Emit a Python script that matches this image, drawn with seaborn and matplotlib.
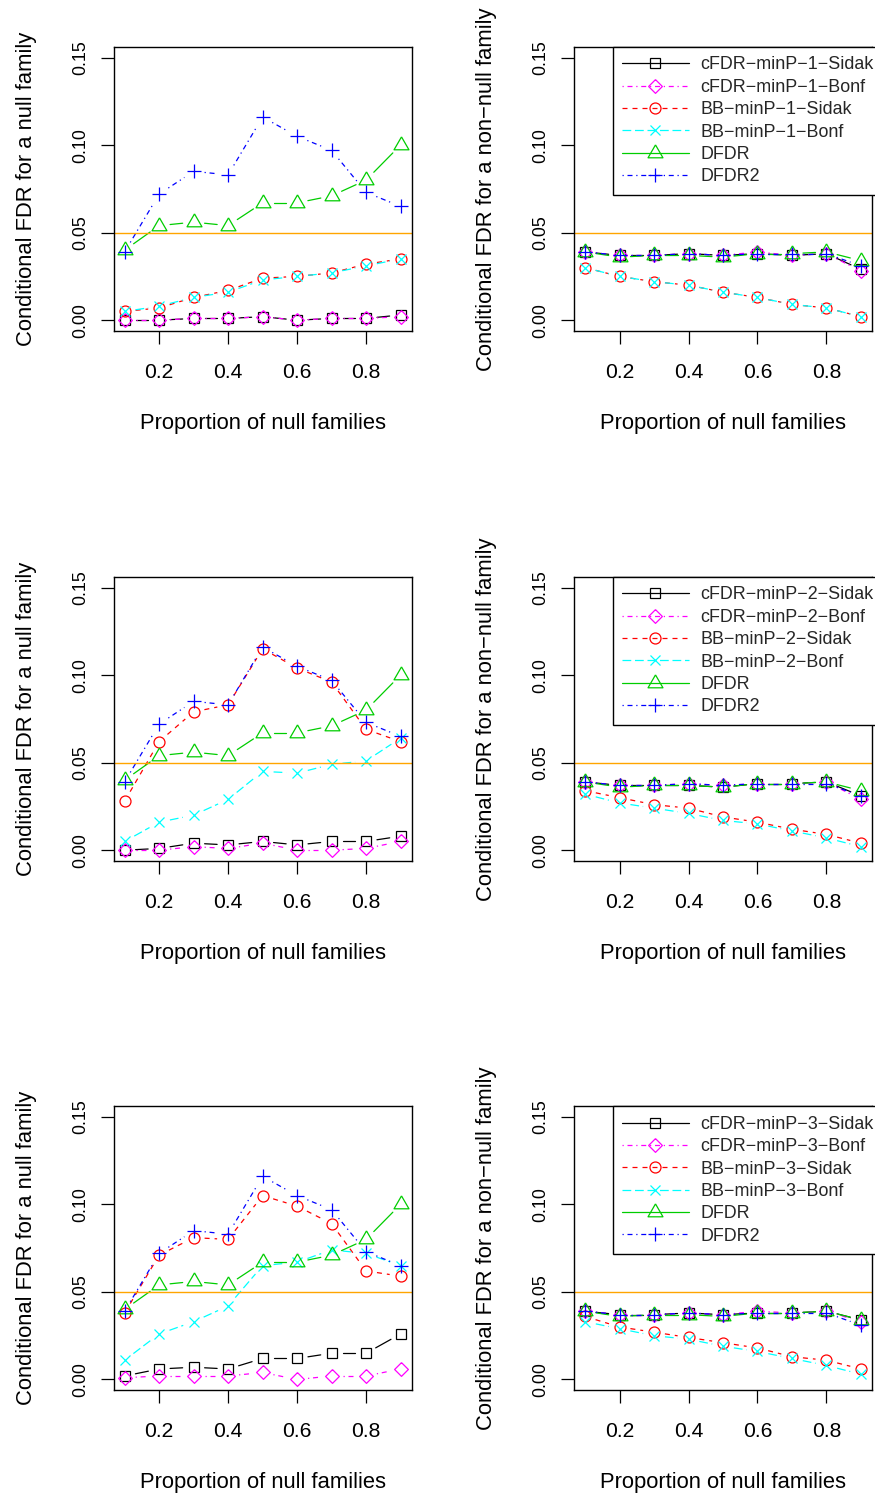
import numpy as np
import pandas as pd
import matplotlib
matplotlib.use("Agg")
import matplotlib.pyplot as plt
from matplotlib.lines import Line2D
import seaborn as sns

sns.set_style("white")
plt.rcParams["font.family"] = ["Liberation Sans", "DejaVu Sans"]
plt.rcParams["axes.unicode_minus"] = True

# ---------------------------------------------------------------- data
prop_null = [0.1, 0.2, 0.3, 0.4, 0.5, 0.6, 0.7, 0.8, 0.9]

# conditional FDR for a null family
dfdr_null = [0.040, 0.054, 0.056, 0.054, 0.067, 0.067, 0.071, 0.080, 0.100]
dfdr2_null = [0.039, 0.072, 0.085, 0.083, 0.116, 0.105, 0.097, 0.073, 0.065]

cfdr_sidak_null_1 = [0.000, 0.000, 0.001, 0.001, 0.002, 0.000, 0.001, 0.001, 0.003]
cfdr_bonf_null_1 = [0.000, 0.000, 0.001, 0.001, 0.002, 0.000, 0.001, 0.001, 0.002]
bb_sidak_null_1 = [0.005, 0.007, 0.013, 0.017, 0.024, 0.025, 0.027, 0.032, 0.035]
bb_bonf_null_1 = [0.005, 0.008, 0.013, 0.016, 0.023, 0.025, 0.027, 0.031, 0.035]

cfdr_sidak_null_2 = [0.000, 0.001, 0.004, 0.003, 0.005, 0.003, 0.005, 0.005, 0.008]
cfdr_bonf_null_2 = [0.000, 0.000, 0.002, 0.001, 0.004, 0.000, 0.000, 0.001, 0.005]
bb_sidak_null_2 = [0.028, 0.062, 0.079, 0.083, 0.115, 0.104, 0.096, 0.069, 0.062]
bb_bonf_null_2 = [0.005, 0.016, 0.020, 0.029, 0.045, 0.044, 0.049, 0.051, 0.064]

cfdr_sidak_null_3 = [0.002, 0.006, 0.007, 0.006, 0.012, 0.012, 0.015, 0.015, 0.026]
cfdr_bonf_null_3 = [0.001, 0.002, 0.002, 0.002, 0.004, 0.000, 0.002, 0.002, 0.006]
bb_sidak_null_3 = [0.038, 0.071, 0.081, 0.080, 0.105, 0.099, 0.089, 0.062, 0.059]
bb_bonf_null_3 = [0.011, 0.026, 0.033, 0.042, 0.065, 0.067, 0.074, 0.072, 0.065]

# conditional FDR for a non-null family
dfdr_nonnull = [0.039, 0.036, 0.037, 0.037, 0.036, 0.038, 0.038, 0.039, 0.034]
dfdr2_nonnull = [0.039, 0.037, 0.037, 0.038, 0.037, 0.038, 0.038, 0.038, 0.031]

cfdr_sidak_nonnull_1 = [0.039, 0.037, 0.037, 0.038, 0.037, 0.038, 0.037, 0.038, 0.029]
cfdr_bonf_nonnull_1 = [0.039, 0.037, 0.037, 0.038, 0.037, 0.039, 0.037, 0.038, 0.028]
bb_sidak_nonnull_1 = [0.030, 0.025, 0.022, 0.020, 0.016, 0.013, 0.009, 0.007, 0.002]
bb_bonf_nonnull_1 = [0.030, 0.025, 0.022, 0.020, 0.016, 0.013, 0.009, 0.007, 0.002]

cfdr_sidak_nonnull_2 = [0.039, 0.037, 0.037, 0.037, 0.036, 0.038, 0.038, 0.039, 0.031]
cfdr_bonf_nonnull_2 = [0.039, 0.037, 0.037, 0.038, 0.037, 0.038, 0.038, 0.039, 0.029]
bb_sidak_nonnull_2 = [0.034, 0.030, 0.026, 0.024, 0.019, 0.016, 0.012, 0.009, 0.004]
bb_bonf_nonnull_2 = [0.032, 0.027, 0.024, 0.021, 0.017, 0.015, 0.011, 0.007, 0.002]

cfdr_sidak_nonnull_3 = [0.039, 0.037, 0.037, 0.038, 0.037, 0.038, 0.038, 0.039, 0.034]
cfdr_bonf_nonnull_3 = [0.039, 0.037, 0.037, 0.038, 0.037, 0.039, 0.038, 0.039, 0.033]
bb_sidak_nonnull_3 = [0.036, 0.030, 0.027, 0.024, 0.021, 0.018, 0.013, 0.011, 0.006]
bb_bonf_nonnull_3 = [0.033, 0.029, 0.025, 0.023, 0.019, 0.016, 0.012, 0.008, 0.003]

target_fdr = 0.05
x_ticks = [0.2, 0.4, 0.6, 0.8]
y_ticks = [0.00, 0.05, 0.10, 0.15]

# ---------------------------------------------------------------- styles
TRIANGLE = [(0, 1.555), (-1.347, -0.7776), (1.347, -0.7776), (0, 1.555)]
DIAMOND = [(0, 1), (1, 0), (0, -1), (-1, 0), (0, 1)]

# (label template, colour, dash pattern, marker, marker size)
methods = [
    ("cFDR\u2212minP\u2212{k}\u2212Sidak", "black", None, "s", 7.0),
    ("cFDR\u2212minP\u2212{k}\u2212Bonf", "#FF00FF", (1, 3, 4, 3), DIAMOND, 9.9),
    ("BB\u2212minP\u2212{k}\u2212Sidak", "#FF0000", (4, 4), "o", 7.9),
    ("BB\u2212minP\u2212{k}\u2212Bonf", "#00FFFF", (7, 3), "x", 7.9),
    ("DFDR", "#00CD00", None, TRIANGLE, 12.4),
    ("DFDR2", "#0000FF", (1, 3, 4, 3), "+", 10.5),
]
LW = 0.9
MEW = 0.9
GAP_PX = 11          # space left between a line and its own points

W, H = 875, 1497
fig = plt.figure(figsize=(W / 100, H / 100), dpi=100)

ax_w = 298 / W
ax_h = 283.7 / H
col_left = [113.6 / W, 574 / W]
row_bottom = [1 - 330.7 / H, 1 - 860.7 / H, 1 - 1390 / H]

null_rows = [
    [cfdr_sidak_null_1, cfdr_bonf_null_1, bb_sidak_null_1, bb_bonf_null_1, dfdr_null, dfdr2_null],
    [cfdr_sidak_null_2, cfdr_bonf_null_2, bb_sidak_null_2, bb_bonf_null_2, dfdr_null, dfdr2_null],
    [cfdr_sidak_null_3, cfdr_bonf_null_3, bb_sidak_null_3, bb_bonf_null_3, dfdr_null, dfdr2_null],
]
nonnull_rows = [
    [cfdr_sidak_nonnull_1, cfdr_bonf_nonnull_1, bb_sidak_nonnull_1, bb_bonf_nonnull_1, dfdr_nonnull, dfdr2_nonnull],
    [cfdr_sidak_nonnull_2, cfdr_bonf_nonnull_2, bb_sidak_nonnull_2, bb_bonf_nonnull_2, dfdr_nonnull, dfdr2_nonnull],
    [cfdr_sidak_nonnull_3, cfdr_bonf_nonnull_3, bb_sidak_nonnull_3, bb_bonf_nonnull_3, dfdr_nonnull, dfdr2_nonnull],
]


def line_style(dash):
    return "-" if dash is None else (0, dash)


def gapped_segments(ax, x, y, gap=GAP_PX):
    """Split a series into separate segments that stop short of each point."""
    pts = ax.transData.transform(np.column_stack([x, y]))
    inv = ax.transData.inverted()
    rows = []
    for i in range(len(pts) - 1):
        p, q = pts[i], pts[i + 1]
        d = q - p
        length = np.hypot(*d)
        if length <= 2 * gap:
            continue
        u = d / length
        a = inv.transform(p + u * gap)
        b = inv.transform(q - u * gap)
        rows.append({"seg": i, "x": a[0], "y": a[1]})
        rows.append({"seg": i, "x": b[0], "y": b[1]})
    return pd.DataFrame(rows)


def draw_panel(ax, series, k, ylabel, with_legend):
    ax.set_xlim(0.068, 0.932)
    ax.set_ylim(-0.006, 0.156)
    for (label, color, dash, marker, ms), yvals in zip(methods, series):
        segs = gapped_segments(ax, prop_null, yvals)
        sns.lineplot(data=segs, x="x", y="y", units="seg", estimator=None,
                     sort=False, color=color, lw=LW, linestyle=line_style(dash),
                     ax=ax, legend=False)
        sns.lineplot(x=prop_null, y=yvals, color=color, linestyle="none",
                     marker=marker, markersize=ms, markerfacecolor="none",
                     markeredgecolor=color, markeredgewidth=MEW, ax=ax,
                     legend=False)
    ax.axhline(target_fdr, color="#FFA500", lw=1.0)
    ax.set_xlim(0.068, 0.932)
    ax.set_ylim(-0.006, 0.156)

    ax.set_xticks(x_ticks)
    ax.set_xticklabels([f"{t:.1f}" for t in x_ticks])
    ax.set_yticks(y_ticks)
    ax.set_yticklabels([f"{t:.2f}" for t in y_ticks], rotation=90, va="center")
    ax.tick_params(axis="both", direction="out", length=9.3, width=0.9,
                   color="black", labelcolor="black",
                   bottom=True, left=True, top=False, right=False)
    ax.tick_params(axis="x", pad=14, labelsize=15.2)
    ax.tick_params(axis="y", pad=8.5, labelsize=12.9)
    for sp in ax.spines.values():
        sp.set_visible(True)
        sp.set_color("black")
        sp.set_linewidth(1.0)

    ax.set_xlabel("Proportion of null families", fontsize=15.8, color="black")
    ax.set_ylabel(ylabel, fontsize=15.8, color="black")
    ax.xaxis.set_label_coords(0.5, -0.29)
    ax.yaxis.set_label_coords(-0.258, 0.5)

    if with_legend:
        handles = [
            Line2D([], [], color=color, lw=LW, linestyle=line_style(dash),
                   marker=marker, markersize=ms, markerfacecolor="none",
                   markeredgecolor=color, markeredgewidth=MEW)
            for (label, color, dash, marker, ms) in methods
        ]
        labels = [m[0].format(k=k) for m in methods]
        leg = ax.legend(handles, labels, loc="upper left",
                        bbox_to_anchor=(0.13, 1.0), borderaxespad=0,
                        frameon=True, fancybox=False, framealpha=1,
                        edgecolor="black", fontsize=12.9, handlelength=3.7,
                        handletextpad=0.65, labelspacing=0.3, borderpad=0.53,
                        numpoints=1)
        leg.get_frame().set_linewidth(1.0)


for r in range(3):
    ax_l = fig.add_axes([col_left[0], row_bottom[r], ax_w, ax_h])
    draw_panel(ax_l, null_rows[r], r + 1, "Conditional FDR for a null family", False)
    ax_r = fig.add_axes([col_left[1], row_bottom[r], ax_w, ax_h])
    draw_panel(ax_r, nonnull_rows[r], r + 1, "Conditional FDR for a non\u2212null family", True)

fig.savefig("out.png", dpi=100, facecolor="white")
